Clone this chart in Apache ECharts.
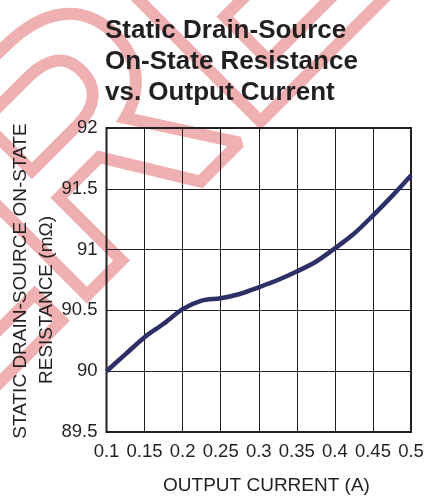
<!DOCTYPE html>
<html><head><meta charset="utf-8">
<script src="https://cdn.jsdelivr.net/npm/echarts@6/dist/echarts.min.js"></script>
<style>html,body{margin:0;padding:0;background:#fff}#c{width:431px;height:498px}</style>
</head><body><div id="c"></div>
<script>
const titleText = 'Static Drain-Source\nOn-State Resistance\nvs. Output Current';
const xAxisName = 'OUTPUT CURRENT (A)';
const yAxisNameLines = ['STATIC DRAIN-SOURCE ON-STATE', 'RESISTANCE (mΩ)'];
const xTickLabels = ['0.1', '0.15', '0.2', '0.25', '0.3', '0.35', '0.4', '0.45', '0.5'];
const yTickLabels = ['89.5', '90', '90.5', '91', '91.5', '92'];
const outputCurrent = [0.1, 0.125, 0.15, 0.175, 0.2, 0.225, 0.25, 0.275, 0.3, 0.325, 0.35, 0.375, 0.4, 0.425, 0.45, 0.475, 0.5];
const resistance = [90.0, 90.14, 90.28, 90.39, 90.51, 90.58, 90.60, 90.635, 90.69, 90.75, 90.82, 90.90, 91.01, 91.13, 91.28, 91.44, 91.61];
const watermarkText = 'REFERENCE';

const FONT = 'Liberation Sans, Arial, Helvetica, sans-serif';
const INK = '#231f20';
const chart = echarts.init(document.getElementById('c'), null, {renderer: 'canvas'});
chart.setOption({
  animation: false,
  backgroundColor: '#fff',
  title: {
    text: titleText, left: 100, top: 10,
    textStyle: {fontFamily: FONT, fontWeight: 'bold', fontSize: 26, lineHeight: 31, color: INK}
  },
  grid: {left: 106.5, right: 20, top: 128, bottom: 66, show: true, borderColor: INK, borderWidth: 2, backgroundColor: 'transparent'},
  xAxis: {
    type: 'value', min: 0.1, max: 0.5, interval: 0.05,
    axisLine: {show: false}, axisTick: {show: false},
    splitLine: {show: true, lineStyle: {color: INK, width: 1}},
    axisLabel: {
      color: INK, fontFamily: FONT, fontSize: 18.5, margin: 10,
      formatter: v => xTickLabels[Math.round((v - 0.1) / 0.05)]
    }
  },
  yAxis: {
    type: 'value', min: 89.5, max: 92, interval: 0.5,
    axisLine: {show: false}, axisTick: {show: false},
    splitLine: {show: true, lineStyle: {color: INK, width: 1}},
    axisLabel: {
      color: INK, fontFamily: FONT, fontSize: 18.5, margin: 9,
      formatter: v => yTickLabels[Math.round((v - 89.5) / 0.5)]
    }
  },
  graphic: [
    {type: 'text', z: -10, x: 225, y: 265, rotation: Math.PI / 4,
     style: {text: watermarkText, font: 'bold 340px ' + FONT, fill: 'rgba(0,0,0,0)', stroke: '#efb0b2', lineWidth: 12, textAlign: 'center', textVerticalAlign: 'bottom'}},
    {type: 'text', x: 266.5, y: 486, style: {text: xAxisName, font: '19px ' + FONT, fill: INK, textAlign: 'center', textVerticalAlign: 'middle'}},
    {type: 'text', x: 21, y: 281, rotation: Math.PI / 2, style: {text: yAxisNameLines[0], font: '19px ' + FONT, fill: INK, textAlign: 'center', textVerticalAlign: 'middle'}},
    {type: 'text', x: 47, y: 300, rotation: Math.PI / 2, style: {text: yAxisNameLines[1], font: '19px ' + FONT, fill: INK, textAlign: 'center', textVerticalAlign: 'middle'}}
  ],
  series: [{
    type: 'line', smooth: 0.3, showSymbol: false,
    data: outputCurrent.map((x, i) => [x, resistance[i]]),
    lineStyle: {color: '#2d3066', width: 4.5}
  }]
});
</script></body></html>
